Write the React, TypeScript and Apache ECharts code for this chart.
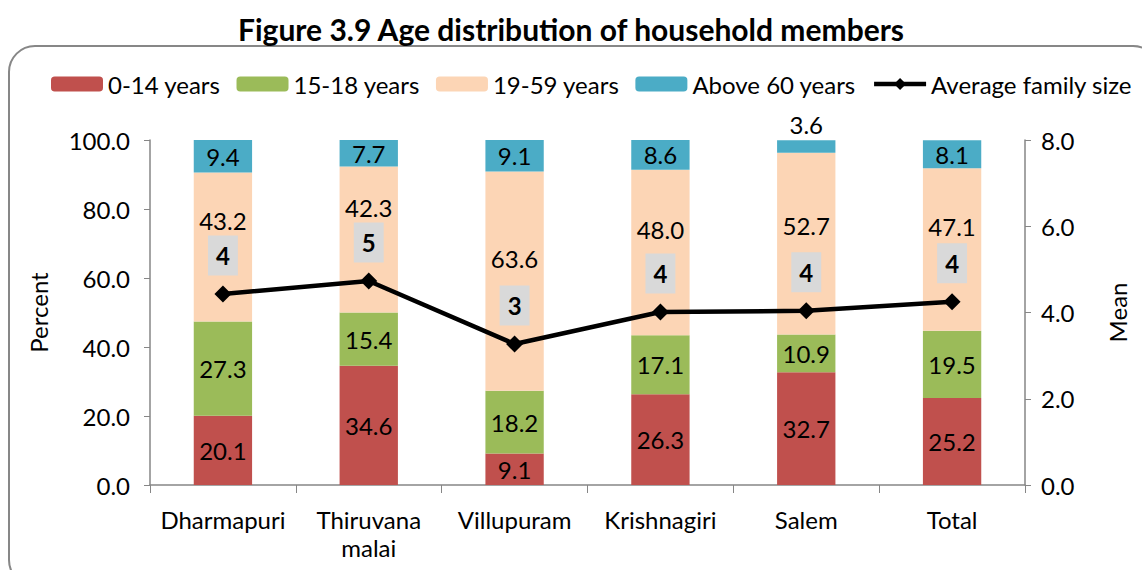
import React, { useEffect, useRef } from "react";
import * as echarts from "echarts";

const categories = ["Dharmapuri", "Thiruvana\nmalai", "Villupuram", "Krishnagiri", "Salem", "Total"];
const age0to14 = [20.1, 34.6, 9.1, 26.3, 32.7, 25.2];
const age15to18 = [27.3, 15.4, 18.2, 17.1, 10.9, 19.5];
const age19to59 = [43.2, 42.3, 63.6, 48.0, 52.7, 47.1];
const above60 = [9.4, 7.7, 9.1, 8.6, 3.6, 8.1];
const avgFamilySize = [4.43, 4.73, 3.27, 4.01, 4.04, 4.25];
const leftTicks = { min: 0, max: 100, interval: 20 };
const rightTicks = { min: 0, max: 8, interval: 2 };

// label vertical nudges for the 19-59 segment (style only)
const midLabelShift = [-26, -32, -23, -23, -18, -23];

const FONT = "Lato, 'Open Sans', sans-serif";
const FS = 24;

export default function App() {
  const ref = useRef<HTMLDivElement>(null);
  useEffect(() => {
    document.body.style.margin = "0";
    const chart = echarts.init(ref.current!, null, { renderer: "svg" });
    const barLabel = () => ({
      show: true,
      position: "inside" as const,
      color: "#000",
      fontSize: FS,
      fontFamily: FONT,
      formatter: (p: any) => Number(p.value).toFixed(1),
    });
    chart.setOption({
      animation: false,
      textStyle: { fontFamily: FONT },
      title: {
        text: "Figure 3.9 Age distribution of household members",
        left: "center",
        top: 9,
        textStyle: { fontSize: 30, fontWeight: "bold", color: "#000", fontFamily: FONT },
      },
      graphic: [
        {
          type: "rect",
          shape: { x: 9, y: 46, width: 1150, height: 540, r: 26 },
          style: { fill: "none", stroke: "#878787", lineWidth: 2 },
          silent: true,
        },
      ],
      legend: {
        top: 72,
        left: 51,
        width: 1120,
        padding: 0,
        itemWidth: 52,
        itemHeight: 15,
        itemGap: 16,
        textStyle: { fontSize: FS, color: "#000", fontFamily: FONT, padding: [0, 0, 0, 0] },
        data: [
          "0-14 years",
          "15-18 years",
          "19-59 years",
          "Above 60 years",
          { name: "Average family size", lineStyle: { width: 4.5 } },
        ],
      },
      grid: { left: 150, right: 117, top: 140, bottom: 85 },
      xAxis: {
        type: "category",
        data: categories,
        axisLine: { lineStyle: { color: "#868686", width: 1.5 } },
        axisTick: { show: true, alignWithLabel: false, length: 8, lineStyle: { color: "#868686" } },
        axisLabel: { interval: 0, color: "#000", fontSize: FS, margin: 20, lineHeight: 28, fontFamily: FONT },
      },
      yAxis: [
        {
          type: "value",
          ...leftTicks,
          name: "Percent",
          nameLocation: "middle",
          nameRotate: 90,
          nameGap: 100,
          nameTextStyle: { fontSize: FS, color: "#000", fontFamily: FONT },
          axisLine: { show: true, lineStyle: { color: "#868686", width: 1.5 } },
          axisTick: { show: true, length: 6, lineStyle: { color: "#868686" } },
          splitLine: { show: false },
          axisLabel: { color: "#000", fontSize: FS, margin: 20, formatter: (v: number) => v.toFixed(1), fontFamily: FONT },
        },
        {
          type: "value",
          ...rightTicks,
          name: "Mean",
          nameLocation: "middle",
          nameRotate: 90,
          nameGap: 80,
          nameTextStyle: { fontSize: FS, color: "#000", fontFamily: FONT },
          axisLine: { show: true, lineStyle: { color: "#868686", width: 1.5 } },
          axisTick: { show: true, length: 6, lineStyle: { color: "#868686" } },
          splitLine: { show: false },
          axisLabel: { color: "#000", fontSize: FS, margin: 16, formatter: (v: number) => v.toFixed(1), fontFamily: FONT },
        },
      ],
      series: [
        {
          name: "0-14 years",
          type: "bar",
          stack: "a",
          barWidth: "40%",
          data: age0to14,
          itemStyle: { color: "#C0504D" },
          label: barLabel(),
        },
        {
          name: "15-18 years",
          type: "bar",
          stack: "a",
          data: age15to18,
          itemStyle: { color: "#9BBB59" },
          label: barLabel(),
        },
        {
          name: "19-59 years",
          type: "bar",
          stack: "a",
          data: age19to59.map((v, i) => ({ value: v, label: { offset: [0, midLabelShift[i]] } })),
          itemStyle: { color: "#FCD5B5" },
          label: barLabel(),
        },
        {
          name: "Above 60 years",
          type: "bar",
          stack: "a",
          data: above60.map((v) =>
            v < 5 ? { value: v, label: { position: "top", distance: 4 } } : v
          ),
          itemStyle: { color: "#4BACC6" },
          label: barLabel(),
        },
        {
          name: "Average family size",
          type: "line",
          yAxisIndex: 1,
          data: avgFamilySize,
          z: 10,
          symbol: "diamond",
          symbolSize: 17,
          itemStyle: { color: "#000" },
          lineStyle: { color: "#000", width: 4.5 },
          label: {
            show: true,
            position: "top",
            distance: 10,
            formatter: (p: any) => String(Math.round(p.value)),
            backgroundColor: "#D9D9D9",
            padding: [8, 8, 8, 8],
            lineHeight: 24,
            fontSize: FS,
            fontWeight: "bold",
            color: "#000",
            fontFamily: FONT,
          },
        },
      ],
    });
    return () => chart.dispose();
  }, []);
  return <div ref={ref} style={{ width: 1142, height: 570 }} />;
}
